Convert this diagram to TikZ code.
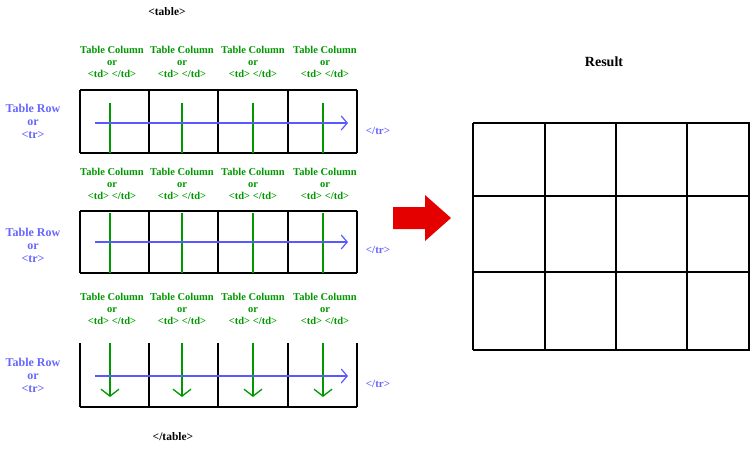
\documentclass[tikz,border=0pt]{standalone}
\usepackage{fontspec}
\setmainfont{Liberation Serif}
\usetikzlibrary{arrows.meta}
\begin{document}
\begin{tikzpicture}[x=1pt,y=-1pt,
  gtxt/.style={text=green!60!black,font=\bfseries\fontsize{10.5}{11}\selectfont,align=center,inner sep=0pt},
  btxt/.style={text=blue!60!white,font=\bfseries\fontsize{12}{13}\selectfont,align=center,inner sep=0pt},
  ktxt/.style={font=\bfseries\fontsize{11.5}{12}\selectfont,inner sep=0pt},
  gl/.style={draw=green!60!black,line width=1.3pt},
  bl/.style={draw=blue!65!white,line width=1.2pt,-{Straight Barb[length=6pt,width=14pt]}},
  kl/.style={draw=black,line width=1.4pt}]
\useasboundingbox (0,0) rectangle (750,450);
\node[ktxt] (tab) at (167,12) {<table>};
\node[ktxt] (etab) at (173,437) {</table>};
% rows
\foreach \r/\ay/\ly/\cy in {1/123/121/62, 2/242/245/184, 3/376/375/309}{
  \foreach \cx [count=\i] in {112,182,253,325}{
    \node[gtxt] (c\r\i) at (\cx,\cy) {Table Column\\[1pt]or\\[1pt]<td> </td>};
  }
  \node[btxt] (rl\r) at (33,\ly) {Table Row\\or\\<tr>};
  \coordinate (as\r) at (95,\ay);
  \coordinate (ae\r) at (348,\ay);
  \node[btxt,font=\bfseries\fontsize{11}{12}\selectfont] (etr\r) at (378,\ay+8) {</tr>};
}
\foreach \x in {80,149,218,288,357}{\draw[kl] (\x,90) -- (\x,153); \draw[kl] (\x,211) -- (\x,273); \draw[kl] (\x,343) -- (\x,407);}
\draw[kl] (80,90) -- (357,90) (80,153) -- (357,153) (80,211) -- (357,211) (80,273) -- (357,273) (80,407) -- (357,407);
\foreach \x in {110,182,253,323}{
  \draw[gl] (\x,103) -- (\x,153);
  \draw[gl] (\x,213) -- (\x,273);
  \draw[gl,-{Straight Barb[length=7pt,width=18pt]}] (\x,343) -- (\x,397);
}
\foreach \r in {1,2,3}{\draw[bl] (as\r) -- (ae\r);}
% red arrow
\fill[red!90!black] (393,207) -- (425,207) -- (425,195) -- (451,218) -- (425,241) -- (425,229) -- (393,229) -- cycle;
% result
\node[font=\bfseries\fontsize{14}{15}\selectfont] (res) at (604,62) {Result};
\foreach \x in {473,545,616,687,749}{\draw[kl] (\x,123) -- (\x,350);}
\foreach \y in {123,196,272,350}{\draw[kl] (473,\y) -- (750,\y);}
\end{tikzpicture}
\end{document}
